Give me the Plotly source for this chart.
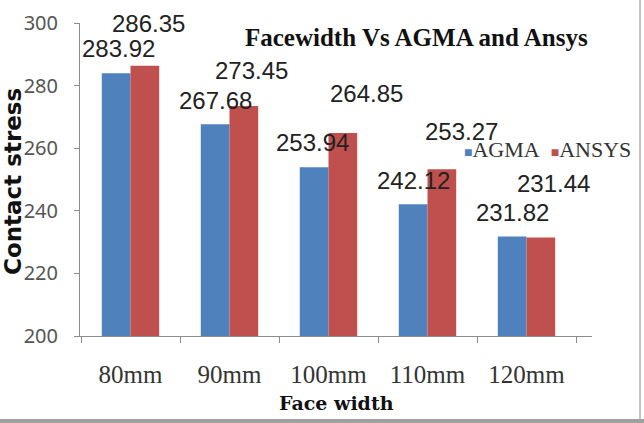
import plotly.graph_objects as go

categories = ["80mm", "90mm", "100mm", "110mm", "120mm"]
agma = [283.92, 267.68, 253.94, 242.12, 231.82]
ansys = [286.35, 273.45, 264.85, 253.27, 231.44]
y_ticks = [200, 220, 240, 260, 280, 300]
series_names = ["AGMA", "ANSYS"]

# label placement offsets (pixels) relative to category center / bar top
agma_label_dx = [-12, -14, -16, -14, -14]
agma_label_dy = [25, 24, 25, 24, 24]
ansys_label_dx = [18, 22, 38, 34, 27]
ansys_label_dy = [42, 36, 40, 38, 54]

BLUE = "#4F81BD"
RED = "#C0504D"

L, R, T, B = 80, 52, 23, 87
PW, PH = 644 - L - R, 423 - T - B

fig = go.Figure()
fig.add_trace(go.Bar(name=series_names[0], x=categories, y=agma, marker=dict(color=BLUE, line=dict(width=0))))
fig.add_trace(go.Bar(name=series_names[1], x=categories, y=ansys, marker=dict(color=RED, line=dict(width=0))))

label_font = dict(family="Liberation Sans", size=24, color="#222222")
for i, c in enumerate(categories):
    fig.add_annotation(x=c, y=agma[i], text=f"{agma[i]:.2f}", showarrow=False,
                       xshift=agma_label_dx[i], yshift=agma_label_dy[i],
                       yanchor="middle", xanchor="center", font=label_font)
    fig.add_annotation(x=c, y=ansys[i], text=f"{ansys[i]:.2f}", showarrow=False,
                       xshift=ansys_label_dx[i], yshift=ansys_label_dy[i],
                       yanchor="middle", xanchor="center", font=label_font)

fig.add_annotation(xref="paper", yref="paper", x=(416 - L) / PW, y=(336 - 38) / PH,
                   text="<b>Facewidth Vs AGMA and Ansys</b>", showarrow=False,
                   xanchor="center", yanchor="middle",
                   font=dict(family="Liberation Serif", size=25, color="#111111"))

# compact legend (Excel style: small square right next to the name)
legend_text = (f'<span style="color:{BLUE};font-size:14px">■</span>{series_names[0]}&nbsp;&nbsp;'
               f'<span style="color:{RED};font-size:14px">■</span>{series_names[1]}')
fig.add_annotation(xref="paper", yref="paper", x=(462 - L) / PW, y=(336 - 149) / PH,
                   text=legend_text, showarrow=False, xanchor="left", yanchor="middle",
                   font=dict(family="Liberation Serif", size=22, color="#333333"))

# axis titles placed manually
fig.add_annotation(xref="paper", yref="paper", x=(336 - L) / PW, y=(336 - 403) / PH,
                   text="<b>Face width</b>", showarrow=False, xanchor="center", yanchor="middle",
                   font=dict(family="DejaVu Serif", size=19, color="#111111"))
fig.add_annotation(xref="paper", yref="paper", x=(13 - L) / PW, y=(336 - 182) / PH,
                   text="<b>Contact stress</b>", showarrow=False, xanchor="center", yanchor="middle",
                   textangle=-90,
                   font=dict(family="DejaVu Sans", size=23, color="#111111"))

# screenshot frame edges
fig.add_shape(type="rect", xref="paper", yref="paper",
              x0=(0 - L) / PW, x1=(644 - L) / PW, y0=(336 - 423) / PH, y1=(336 - 419) / PH,
              fillcolor="#A0A0A0", line=dict(width=0), layer="above")
fig.add_shape(type="line", xref="paper", yref="paper",
              x0=(640 - L) / PW, x1=(640 - L) / PW, y0=(336 - 419) / PH, y1=(336 - 0) / PH,
              line=dict(color="#B0B0B0", width=1.5), layer="above")

axis_color = "#8C8C8C"
fig.update_layout(
    width=644, height=423,
    margin=dict(l=L, r=R, t=T, b=B, autoexpand=False),
    paper_bgcolor="white", plot_bgcolor="white",
    barmode="group", bargap=0.42, bargroupgap=0,
    showlegend=False,
    xaxis=dict(
        type="category", showline=True, linecolor=axis_color, linewidth=1,
        ticks="outside", tickson="boundaries", ticklen=6, tickcolor=axis_color,
        showgrid=False, ticklabelstandoff=16, automargin=False,
        tickfont=dict(family="Liberation Serif", size=25, color="#333333"),
    ),
    yaxis=dict(
        range=[200, 300], tickvals=y_ticks, showline=True, linecolor=axis_color, linewidth=1,
        ticks="outside", ticklen=5, tickcolor=axis_color, showgrid=False, zeroline=False,
        ticklabelstandoff=12, automargin=False,
        tickfont=dict(family="Noto Sans", size=20, color="#555555"),
    ),
)

fig.write_html("out.html")
